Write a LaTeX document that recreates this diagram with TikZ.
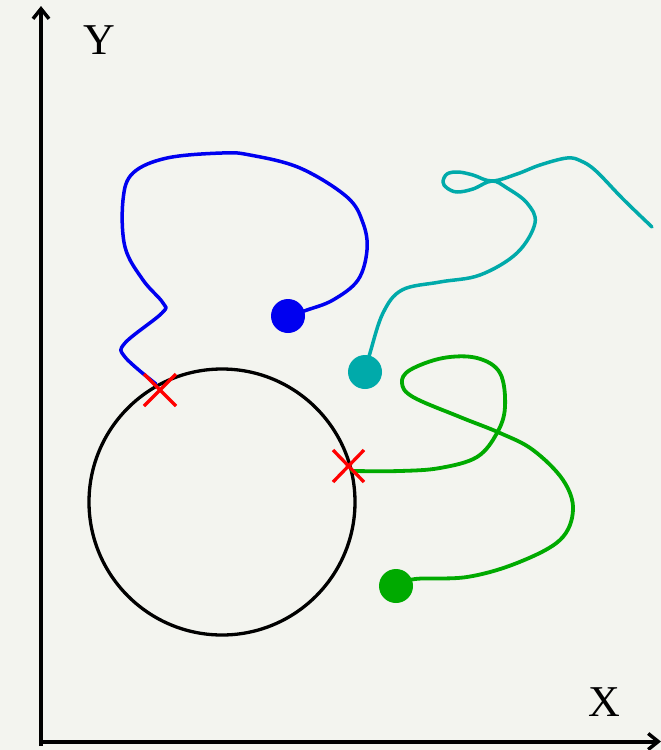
\documentclass[tikz,border=0pt]{standalone}
\usepackage{fontspec}
\setmainfont{Liberation Serif}
\usetikzlibrary{arrows.meta}
\definecolor{bg}{RGB}{243,244,239}
\definecolor{cblue}{RGB}{0,0,240}
\definecolor{ccyan}{RGB}{0,170,170}
\definecolor{cgreen}{RGB}{0,170,0}
\definecolor{cred}{RGB}{255,0,0}
\tikzset{
  axis/.style={line width=4pt, -{Straight Barb[length=10pt,width=16pt,line width=3.5pt]}},
  path/.style={line width=3.5pt, line cap=round, line join=round},
  dot/.style={circle, inner sep=0pt, minimum size=34pt},
  crossmark/.style={cred, line width=3.3pt},
  lbl/.style={font=\fontsize{44}{44}\selectfont, inner sep=0pt}
}
\begin{document}
\begin{tikzpicture}[x=1pt,y=-1pt]
\fill[bg] (0,0) rectangle (661,750);
\useasboundingbox (0,0) rectangle (661,750);
% axes
\coordinate (ytop) at (41,6);
\coordinate (xend) at (661,741.5);
\draw[axis] (41,746) -- (ytop);
\draw[axis] (39,741.5) -- (xend);
\node[lbl] (ylab) at (99,40) {Y};
\node[lbl] (xlab) at (604,702) {X};
% circle
\node[draw=black, line width=3.3pt, circle, minimum size=266pt, inner sep=0pt] (circ) at (222,502) {};
% blue path
\draw[path, cblue] plot[smooth, tension=0.6] coordinates {
 (288,316) (307,310) (333,300) (358,280) (367,250) (363,223) (347,197) (300,168) (250,155) (222,153)
 (167,158) (133,173) (123,200) (125,247) (143,280) (163,303) (162,313) (125,343) (125,357) (156,384)};
\node[dot, fill=cblue] (bdot) at (288,316) {};
% cyan path
\draw[path, ccyan] plot[smooth, tension=0.6] coordinates {
 (365,372) (370,353) (383,313) (402,290) (440,282) (480,275) (517,253) (535,223) (527,203) (507,188)
 (492,181) (473,189) (457,192) (447,188) (443,182) (447,174) (458,172) (473,175) (492,181)
 (517,174) (540,165) (567,158) (581,161) (596,171) (623,199) (652,227)};
\node[dot, fill=ccyan] (cdot) at (365,372) {};
% green path
\draw[path, cgreen, line width=3.8pt] plot[smooth, tension=0.6] coordinates {
 (396,586) (415,579) (467,577) (517,563) (560,540) (573,510) (563,480) (533,450) (500,433) (460,417)
 (413,397) (402,383) (410,370) (443,358) (477,358) (500,373) (505,407) (497,433) (477,457) (440,468)
 (400,471) (352,471)};
\node[dot, fill=cgreen] (gdot) at (396,586) {};
% crosses
\draw[crossmark] (144,374) -- (176,406) (144,406) -- (176,374);
\draw[crossmark] (333,450) -- (364,482) (333,482) -- (364,450);
\end{tikzpicture}
\end{document}
